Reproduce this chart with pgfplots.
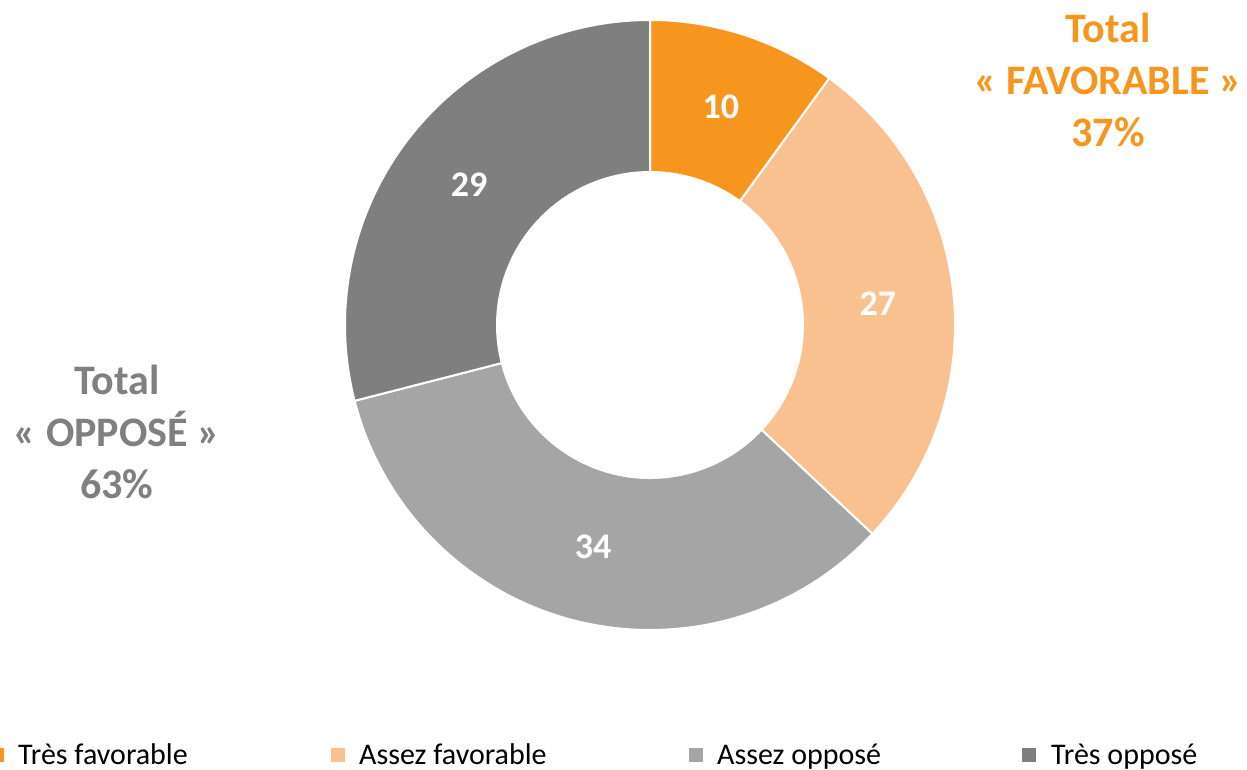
\documentclass[border=0pt]{standalone}
\usepackage{fontspec}
\setmainfont{Carlito}
\usepackage{pgfplots}
\usepackage{pgfplotstable}
\pgfplotsset{compat=1.18}
\definecolor{c1}{HTML}{F7961F}
\definecolor{c2}{HTML}{F9C090}
\definecolor{c3}{HTML}{A5A5A5}
\definecolor{c4}{HTML}{7F7F7F}
\definecolor{favtxt}{HTML}{F7961F}
\definecolor{opptxt}{HTML}{808080}

\pgfplotstableread{
value
10
27
34
29
}\piedata

\newcommand\slice[3]{%
  \fill[#1, draw=white, line width=2pt]
    (axis cs:{650+305*cos(#2)},{444+305*sin(#2)})
    arc[start angle=#2, end angle=#3, radius=305]
    -- (axis cs:{650+153*cos(#3)},{444+153*sin(#3)})
    arc[start angle=#3, end angle=#2, radius=153] -- cycle;}
\newcommand\slicelabel[3]{%
  \node[white, font=\bfseries\fontsize{36}{43}\selectfont]
    at (axis cs:{650+229*cos((#1+#2)/2)},{444+229*sin((#1+#2)/2)}) {#3};}

\begin{document}
\begin{tikzpicture}
\pgfplotstablegetelem{0}{value}\of\piedata \pgfmathtruncatemacro\vA{\pgfplotsretval}
\pgfplotstablegetelem{1}{value}\of\piedata \pgfmathtruncatemacro\vB{\pgfplotsretval}
\pgfplotstablegetelem{2}{value}\of\piedata \pgfmathtruncatemacro\vC{\pgfplotsretval}
\pgfplotstablegetelem{3}{value}\of\piedata \pgfmathtruncatemacro\vD{\pgfplotsretval}
\pgfmathsetmacro\total{\vA+\vB+\vC+\vD}
\pgfmathsetmacro\aA{90}
\pgfmathsetmacro\aB{\aA-360*\vA/\total}
\pgfmathsetmacro\aC{\aB-360*\vB/\total}
\pgfmathsetmacro\aD{\aC-360*\vC/\total}
\pgfmathsetmacro\aE{\aD-360*\vD/\total}
\begin{axis}[x=1pt, y=1pt, xmin=0, xmax=1247, ymin=0, ymax=769,
  hide axis, clip=false]
\path (axis cs:0,0) (axis cs:1247,769);
\slice{c1}{\aA}{\aB}
\slice{c2}{\aB}{\aC}
\slice{c3}{\aC}{\aD}
\slice{c4}{\aD}{\aE}
\slicelabel{\aA}{\aB}{\vA}
\slicelabel{\aB}{\aC}{\vB}
\slicelabel{\aC}{\aD}{\vC}
\slicelabel{\aD}{\aE}{\vD}
\node[favtxt, align=center, font=\bfseries\fontsize{42}{52}\selectfont]
  at (axis cs:1108,689) {Total\\« FAVORABLE »\\37\%};
\node[opptxt, align=center, font=\bfseries\fontsize{42}{52}\selectfont]
  at (axis cs:117,337) {Total\\« OPPOSÉ »\\63\%};
% legend
\fill[c1] (axis cs:0,7) rectangle (axis cs:4,21);
\fill[c2] (axis cs:331,7) rectangle (axis cs:345,21);
\fill[c3] (axis cs:689,7) rectangle (axis cs:703,21);
\fill[c4] (axis cs:1022,7) rectangle (axis cs:1036,21);
\node[anchor=base west, inner sep=0pt, font=\fontsize{30}{36}\selectfont] at (axis cs:18,5) {Très favorable};
\node[anchor=base west, inner sep=0pt, font=\fontsize{30}{36}\selectfont] at (axis cs:359,5) {Assez favorable};
\node[anchor=base west, inner sep=0pt, font=\fontsize{30}{36}\selectfont] at (axis cs:717,5) {Assez opposé};
\node[anchor=base west, inner sep=0pt, font=\fontsize{30}{36}\selectfont] at (axis cs:1051,5) {Très opposé};
\end{axis}
\end{tikzpicture}
\end{document}
